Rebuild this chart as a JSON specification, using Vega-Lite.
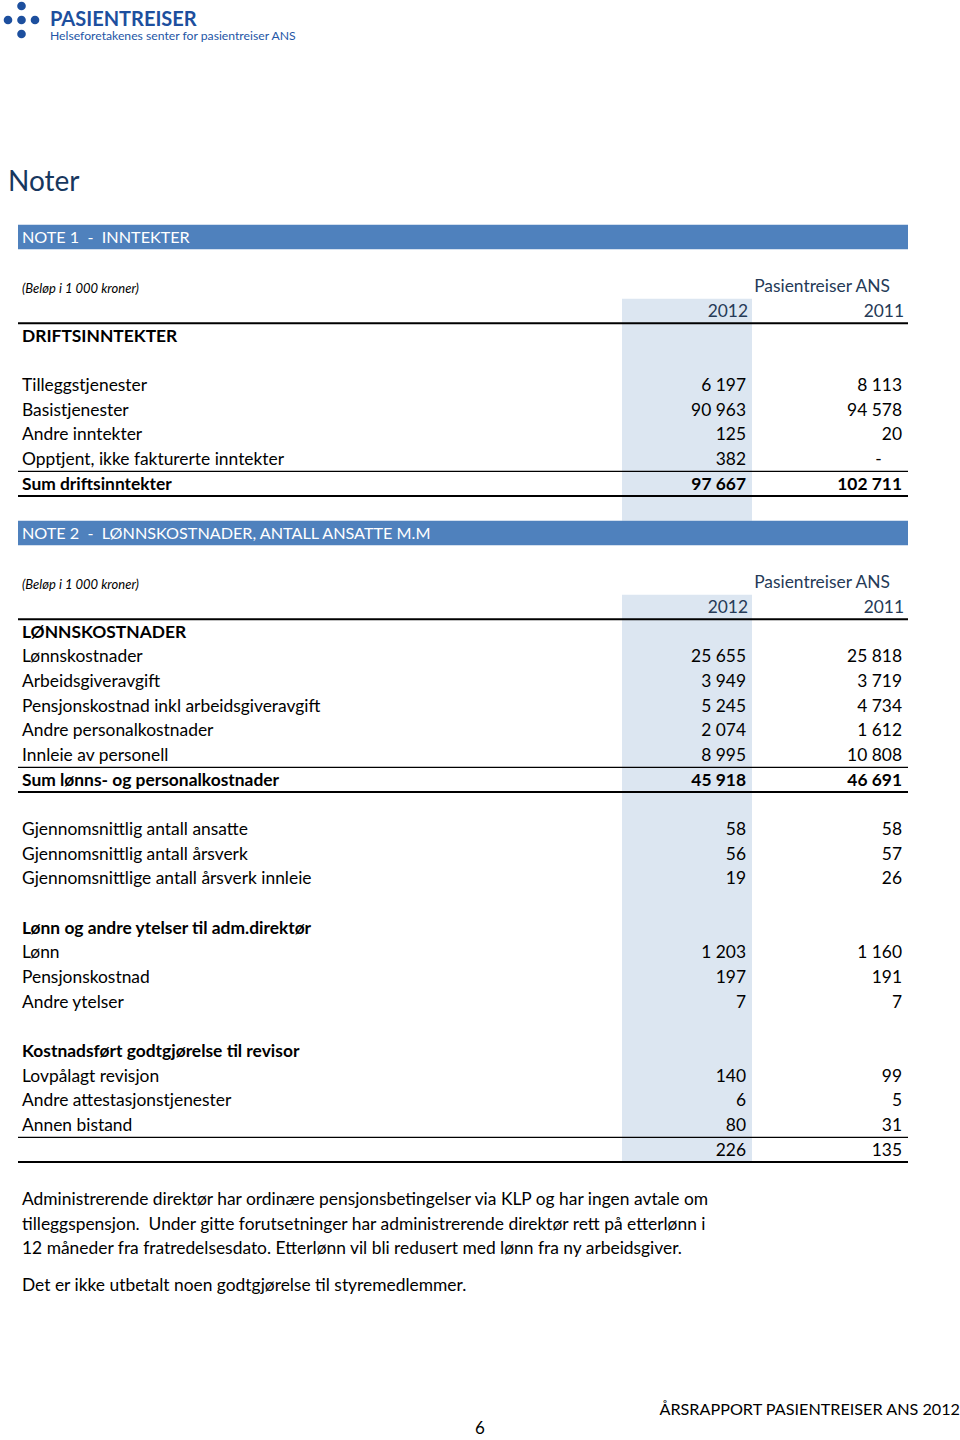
{
  "$schema": "https://vega.github.io/schema/vega-lite/v6.json",
  "width": 960,
  "height": 1440,
  "autosize": {"type": "none"},
  "padding": 0,
  "background": "#ffffff",
  "config": {
    "view": {"stroke": null},
    "axis": {"disable": true},
    "font": "Lato",
    "text": {"font": "Lato", "fontSize": 17.4, "color": "#000000", "baseline": "middle", "dy": 1}
  },
  "datasets": {
    "table": [
      {"section": 1, "line": -3, "type": "colhead", "label": "", "2012": "2012", "2011": "2011"},
      {"section": 1, "line": -2, "type": "heading", "label": "DRIFTSINNTEKTER"},
      {"section": 1, "line": -1, "type": "blank", "label": ""},
      {"section": 1, "line": 0, "type": "item", "label": "Tilleggstjenester", "2012": "6 197", "2011": "8 113"},
      {"section": 1, "line": 1, "type": "item", "label": "Basistjenester", "2012": "90 963", "2011": "94 578"},
      {"section": 1, "line": 2, "type": "item", "label": "Andre inntekter", "2012": "125", "2011": "20"},
      {"section": 1, "line": 3, "type": "item", "label": "Opptjent, ikke fakturerte inntekter", "2012": "382", "2011": "-\u2007\u2007\u2060"},
      {"section": 1, "line": 4, "type": "total", "label": "Sum driftsinntekter", "2012": "97 667", "2011": "102 711"},
      {"section": 1, "line": 5, "type": "blank", "label": ""},
      {"section": 2, "line": 9, "type": "colhead", "label": "", "2012": "2012", "2011": "2011"},
      {"section": 2, "line": 10, "type": "heading", "label": "LØNNSKOSTNADER"},
      {"section": 2, "line": 11, "type": "item", "label": "Lønnskostnader", "2012": "25 655", "2011": "25 818"},
      {"section": 2, "line": 12, "type": "item", "label": "Arbeidsgiveravgift", "2012": "3 949", "2011": "3 719"},
      {"section": 2, "line": 13, "type": "item", "label": "Pensjonskostnad inkl arbeidsgiveravgift", "2012": "5 245", "2011": "4 734"},
      {"section": 2, "line": 14, "type": "item", "label": "Andre personalkostnader", "2012": "2 074", "2011": "1 612"},
      {"section": 2, "line": 15, "type": "item", "label": "Innleie av personell", "2012": "8 995", "2011": "10 808"},
      {"section": 2, "line": 16, "type": "total", "label": "Sum lønns- og personalkostnader", "2012": "45 918", "2011": "46 691"},
      {"section": 2, "line": 17, "type": "blank", "label": ""},
      {"section": 2, "line": 18, "type": "item", "label": "Gjennomsnittlig antall ansatte", "2012": "58", "2011": "58"},
      {"section": 2, "line": 19, "type": "item", "label": "Gjennomsnittlig antall årsverk", "2012": "56", "2011": "57"},
      {"section": 2, "line": 20, "type": "item", "label": "Gjennomsnittlige antall årsverk innleie", "2012": "19", "2011": "26"},
      {"section": 2, "line": 21, "type": "blank", "label": ""},
      {"section": 2, "line": 22, "type": "heading", "label": "Lønn og andre ytelser til adm.direktør"},
      {"section": 2, "line": 23, "type": "item", "label": "Lønn", "2012": "1 203", "2011": "1 160"},
      {"section": 2, "line": 24, "type": "item", "label": "Pensjonskostnad", "2012": "197", "2011": "191"},
      {"section": 2, "line": 25, "type": "item", "label": "Andre ytelser", "2012": "7", "2011": "7"},
      {"section": 2, "line": 26, "type": "blank", "label": ""},
      {"section": 2, "line": 27, "type": "heading", "label": "Kostnadsført godtgjørelse til revisor"},
      {"section": 2, "line": 28, "type": "item", "label": "Lovpålagt revisjon", "2012": "140", "2011": "99"},
      {"section": 2, "line": 29, "type": "item", "label": "Andre attestasjonstjenester", "2012": "6", "2011": "5"},
      {"section": 2, "line": 30, "type": "item", "label": "Annen bistand", "2012": "80", "2011": "31"},
      {"section": 2, "line": 31, "type": "subtotal", "label": "", "2012": "226", "2011": "135"}
    ],
    "notes": [
      {"line": -6, "title": "NOTE 1\u00a0 -\u00a0 INNTEKTER"},
      {"line": 6, "title": "NOTE 2\u00a0 -\u00a0 LØNNSKOSTNADER, ANTALL ANSATTE M.M"}
    ],
    "units": [
      {"line": -4, "entity": "Pasientreiser ANS", "unit": "(Beløp i 1 000 kroner)"},
      {"line": 8, "entity": "Pasientreiser ANS", "unit": "(Beløp i 1 000 kroner)"}
    ],
    "page": [
      {"role": "brand", "line": -14.84, "text": "PASIENTREISER"},
      {"role": "tagline", "line": -14.19, "text": "Helseforetakenes senter for pasientreiser ANS"},
      {"role": "title", "line": -8.23, "text": "Noter"},
      {"role": "paragraph", "line": 33, "text": "Administrerende direktør har ordinære pensjonsbetingelser via KLP og har ingen avtale om"},
      {"role": "paragraph", "line": 34, "text": "tilleggspensjon.\u00a0 Under gitte forutsetninger har administrerende direktør rett på etterlønn i"},
      {"role": "paragraph", "line": 35, "text": "12 måneder fra fratredelsesdato. Etterlønn vil bli redusert med lønn fra ny arbeidsgiver."},
      {"role": "paragraph", "line": 36.5, "text": "Det er ikke utbetalt noen godtgjørelse til styremedlemmer."},
      {"role": "footer", "line": 41.5, "text": "ÅRSRAPPORT PASIENTREISER ANS 2012"},
      {"role": "pageno", "line": 42.3, "text": "6"}
    ],
    "logo": [
      {"gx": 0, "gy": -1},
      {"gx": -1, "gy": 0},
      {"gx": 0, "gy": 0},
      {"gx": 1, "gy": 0},
      {"gx": 0, "gy": 1}
    ]
  },
  "resolve": {"scale": {"x": "independent", "y": "independent"}},
  "layer": [
    {
      "data": {"name": "table"},
      "transform": [
        {"aggregate": [{"op": "min", "field": "line", "as": "first"}, {"op": "max", "field": "line", "as": "last"}], "groupby": ["section"]}
      ],
      "mark": {"type": "rect", "color": "#DCE6F1", "yOffset": -12.33, "y2Offset": 12.33},
      "encoding": {
        "x": {"datum": 622, "type": "quantitative", "scale": {"domain": [0, 960], "range": [0, 960], "nice": false, "zero": false}},
        "x2": {"datum": 752},
        "y": {"field": "first", "type": "quantitative", "scale": {"domain": [-15.608, 42.77], "range": [0, 1440], "nice": false, "zero": false}},
        "y2": {"field": "last"}
      }
    },
    {
      "data": {"name": "notes"},
      "mark": {"type": "rule", "color": "#4F81BD", "strokeWidth": 24.5, "strokeCap": "butt"},
      "encoding": {
        "x": {"datum": 18, "type": "quantitative", "scale": {"domain": [0, 960], "range": [0, 960], "nice": false, "zero": false}},
        "x2": {"datum": 908},
        "y": {"field": "line", "type": "quantitative", "scale": {"domain": [-15.608, 42.77], "range": [0, 1440], "nice": false, "zero": false}}
      }
    },
    {
      "data": {"name": "notes"},
      "mark": {"type": "text", "align": "left", "color": "#FFFFFF", "fontSize": 16.2},
      "encoding": {
        "x": {"datum": 22, "type": "quantitative", "scale": {"domain": [0, 960], "range": [0, 960], "nice": false, "zero": false}},
        "y": {"field": "line", "type": "quantitative", "scale": {"domain": [-15.608, 42.77], "range": [0, 1440], "nice": false, "zero": false}},
        "text": {"field": "title"}
      }
    },
    {
      "data": {"name": "table"},
      "transform": [{"filter": {"field": "type", "oneOf": ["colhead", "total", "subtotal"]}}],
      "mark": {"type": "rule", "color": "#000000", "strokeWidth": 2, "yOffset": 12.33},
      "encoding": {
        "x": {"datum": 18, "type": "quantitative", "scale": {"domain": [0, 960], "range": [0, 960], "nice": false, "zero": false}},
        "x2": {"datum": 908},
        "y": {"field": "line", "type": "quantitative", "scale": {"domain": [-15.608, 42.77], "range": [0, 1440], "nice": false, "zero": false}}
      }
    },
    {
      "data": {"name": "table"},
      "transform": [{"filter": {"field": "type", "oneOf": ["total", "subtotal"]}}],
      "mark": {"type": "rule", "color": "#000000", "strokeWidth": 1.4, "yOffset": -12.33},
      "encoding": {
        "x": {"datum": 18, "type": "quantitative", "scale": {"domain": [0, 960], "range": [0, 960], "nice": false, "zero": false}},
        "x2": {"datum": 908},
        "y": {"field": "line", "type": "quantitative", "scale": {"domain": [-15.608, 42.77], "range": [0, 1440], "nice": false, "zero": false}}
      }
    },
    {
      "data": {"name": "table"},
      "transform": [{"filter": {"field": "type", "oneOf": ["item", "subtotal"]}}],
      "mark": {"type": "text", "align": "left"},
      "encoding": {
        "x": {"datum": 22, "type": "quantitative", "scale": {"domain": [0, 960], "range": [0, 960], "nice": false, "zero": false}},
        "y": {"field": "line", "type": "quantitative", "scale": {"domain": [-15.608, 42.77], "range": [0, 1440], "nice": false, "zero": false}},
        "text": {"field": "label"}
      }
    },
    {
      "data": {"name": "table"},
      "transform": [{"filter": {"field": "type", "oneOf": ["heading", "total"]}}],
      "mark": {"type": "text", "align": "left", "fontWeight": "bold"},
      "encoding": {
        "x": {"datum": 22, "type": "quantitative", "scale": {"domain": [0, 960], "range": [0, 960], "nice": false, "zero": false}},
        "y": {"field": "line", "type": "quantitative", "scale": {"domain": [-15.608, 42.77], "range": [0, 1440], "nice": false, "zero": false}},
        "text": {"field": "label"}
      }
    },
    {
      "data": {"name": "table"},
      "transform": [
        {"filter": {"field": "type", "oneOf": ["item", "subtotal"]}},
        {"fold": ["2012", "2011"], "as": ["year", "amount"]}
      ],
      "mark": {"type": "text", "align": "right"},
      "encoding": {
        "x": {"field": "year", "type": "nominal", "scale": {"type": "point", "domain": ["2012", "2011"], "range": [746, 902], "padding": 0}},
        "y": {"field": "line", "type": "quantitative", "scale": {"domain": [-15.608, 42.77], "range": [0, 1440], "nice": false, "zero": false}},
        "text": {"field": "amount"}
      }
    },
    {
      "data": {"name": "table"},
      "transform": [
        {"filter": {"field": "type", "equal": "total"}},
        {"fold": ["2012", "2011"], "as": ["year", "amount"]}
      ],
      "mark": {"type": "text", "align": "right", "fontWeight": "bold"},
      "encoding": {
        "x": {"field": "year", "type": "nominal", "scale": {"type": "point", "domain": ["2012", "2011"], "range": [746, 902], "padding": 0}},
        "y": {"field": "line", "type": "quantitative", "scale": {"domain": [-15.608, 42.77], "range": [0, 1440], "nice": false, "zero": false}},
        "text": {"field": "amount"}
      }
    },
    {
      "data": {"name": "table"},
      "transform": [
        {"filter": {"field": "type", "equal": "colhead"}},
        {"fold": ["2012", "2011"], "as": ["year", "amount"]}
      ],
      "mark": {"type": "text", "align": "right", "color": "#253A57"},
      "encoding": {
        "x": {"field": "year", "type": "nominal", "scale": {"type": "point", "domain": ["2012", "2011"], "range": [748, 904], "padding": 0}},
        "y": {"field": "line", "type": "quantitative", "scale": {"domain": [-15.608, 42.77], "range": [0, 1440], "nice": false, "zero": false}},
        "text": {"field": "amount"}
      }
    },
    {
      "data": {"name": "units"},
      "mark": {"type": "text", "align": "right", "color": "#253A57"},
      "encoding": {
        "x": {"datum": 890, "type": "quantitative", "scale": {"domain": [0, 960], "range": [0, 960], "nice": false, "zero": false}},
        "y": {"field": "line", "type": "quantitative", "scale": {"domain": [-15.608, 42.77], "range": [0, 1440], "nice": false, "zero": false}},
        "text": {"field": "entity"}
      }
    },
    {
      "data": {"name": "units"},
      "mark": {"type": "text", "align": "left", "fontStyle": "italic", "fontSize": 13, "dy": 3},
      "encoding": {
        "x": {"datum": 22, "type": "quantitative", "scale": {"domain": [0, 960], "range": [0, 960], "nice": false, "zero": false}},
        "y": {"field": "line", "type": "quantitative", "scale": {"domain": [-15.608, 42.77], "range": [0, 1440], "nice": false, "zero": false}},
        "text": {"field": "unit"}
      }
    },
    {
      "data": {"name": "page"},
      "transform": [{"filter": {"field": "role", "equal": "title"}}],
      "mark": {"type": "text", "align": "left", "fontSize": 28, "color": "#17375E"},
      "encoding": {
        "x": {"datum": 8, "type": "quantitative", "scale": {"domain": [0, 960], "range": [0, 960], "nice": false, "zero": false}},
        "y": {"field": "line", "type": "quantitative", "scale": {"domain": [-15.608, 42.77], "range": [0, 1440], "nice": false, "zero": false}},
        "text": {"field": "text"}
      }
    },
    {
      "data": {"name": "page"},
      "transform": [{"filter": {"field": "role", "equal": "paragraph"}}],
      "mark": {"type": "text", "align": "left"},
      "encoding": {
        "x": {"datum": 22, "type": "quantitative", "scale": {"domain": [0, 960], "range": [0, 960], "nice": false, "zero": false}},
        "y": {"field": "line", "type": "quantitative", "scale": {"domain": [-15.608, 42.77], "range": [0, 1440], "nice": false, "zero": false}},
        "text": {"field": "text"}
      }
    },
    {
      "data": {"name": "page"},
      "transform": [{"filter": {"field": "role", "equal": "footer"}}],
      "mark": {"type": "text", "align": "right", "fontSize": 16.2},
      "encoding": {
        "x": {"datum": 960, "type": "quantitative", "scale": {"domain": [0, 960], "range": [0, 960], "nice": false, "zero": false}},
        "y": {"field": "line", "type": "quantitative", "scale": {"domain": [-15.608, 42.77], "range": [0, 1440], "nice": false, "zero": false}},
        "text": {"field": "text"}
      }
    },
    {
      "data": {"name": "page"},
      "transform": [{"filter": {"field": "role", "equal": "pageno"}}],
      "mark": {"type": "text", "align": "center", "fontSize": 17},
      "encoding": {
        "x": {"datum": 480, "type": "quantitative", "scale": {"domain": [0, 960], "range": [0, 960], "nice": false, "zero": false}},
        "y": {"field": "line", "type": "quantitative", "scale": {"domain": [-15.608, 42.77], "range": [0, 1440], "nice": false, "zero": false}},
        "text": {"field": "text"}
      }
    },
    {
      "data": {"name": "page"},
      "transform": [{"filter": {"field": "role", "equal": "brand"}}],
      "mark": {"type": "text", "align": "left", "fontSize": 20, "fontWeight": "bold", "color": "#1D4F9E"},
      "encoding": {
        "x": {"datum": 50, "type": "quantitative", "scale": {"domain": [0, 960], "range": [0, 960], "nice": false, "zero": false}},
        "y": {"field": "line", "type": "quantitative", "scale": {"domain": [-15.608, 42.77], "range": [0, 1440], "nice": false, "zero": false}},
        "text": {"field": "text"}
      }
    },
    {
      "data": {"name": "page"},
      "transform": [{"filter": {"field": "role", "equal": "tagline"}}],
      "mark": {"type": "text", "align": "left", "fontSize": 12.2, "color": "#2456A6"},
      "encoding": {
        "x": {"datum": 50, "type": "quantitative", "scale": {"domain": [0, 960], "range": [0, 960], "nice": false, "zero": false}},
        "y": {"field": "line", "type": "quantitative", "scale": {"domain": [-15.608, 42.77], "range": [0, 1440], "nice": false, "zero": false}},
        "text": {"field": "text"}
      }
    },
    {
      "data": {"name": "logo"},
      "mark": {"type": "circle", "size": 75, "color": "#1D4F9E", "opacity": 1},
      "encoding": {
        "x": {"field": "gx", "type": "quantitative", "scale": {"domain": [-1, 1], "range": [8, 35], "nice": false, "zero": false}},
        "y": {"field": "gy", "type": "quantitative", "scale": {"domain": [-1, 1], "range": [6, 34], "nice": false, "zero": false}}
      }
    }
  ]
}
